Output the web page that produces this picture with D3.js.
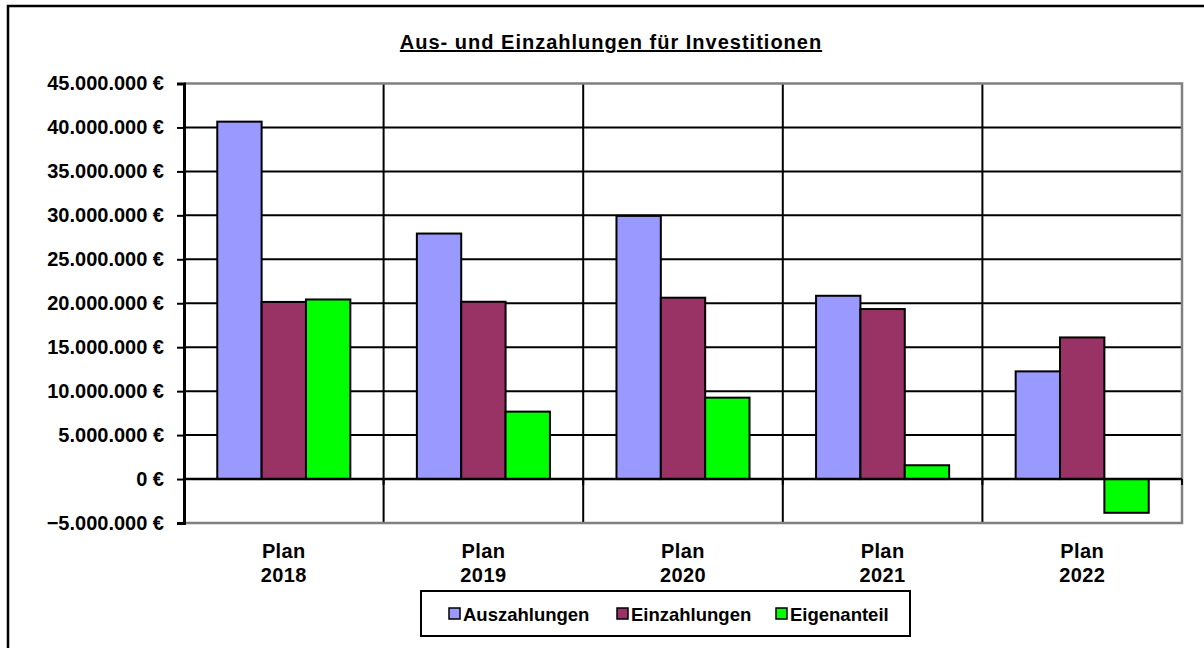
<!DOCTYPE html>
<html>
<head>
<meta charset="utf-8">
<script src="https://cdn.jsdelivr.net/npm/d3@7"></script>
<style>
  body { margin: 0; background: #fff; }
  svg { display: block; font-family: 'Liberation Sans', Arial, sans-serif; font-weight: bold; }
</style>
</head>
<body>
<div class="canvas"></div>
<script>
const categories = ['Plan 2018', 'Plan 2019', 'Plan 2020', 'Plan 2021', 'Plan 2022'];
const seriesNames = ['Auszahlungen', 'Einzahlungen', 'Eigenanteil'];
const auszahlungen = [40660000, 27930000, 29940000, 20850000, 12250000];
const einzahlungen = [20150000, 20170000, 20630000, 19340000, 16110000];
const eigenanteil = [20430000, 7670000, 9260000, 1570000, -3840000];
const yTicks = [-5000000, 0, 5000000, 10000000, 15000000, 20000000, 25000000, 30000000, 35000000, 40000000, 45000000];
const colors = ['#9999ff', '#993366', '#00ff00'];

const width = 1204;
const height = 648;
const plot = { left: 184, right: 1182, top: 83.5, bottom: 523 };

const svg = d3
  .select('.canvas')
  .append('svg')
  .attr('width', width)
  .attr('height', height);

// outer frame (runs off the right and bottom edge)
svg
  .append('rect')
  .attr('x', 8)
  .attr('y', 6)
  .attr('width', 1220)
  .attr('height', 680)
  .attr('fill', 'none')
  .attr('stroke', '#000')
  .attr('stroke-width', 2.5);

svg
  .append('text')
  .attr('x', 611)
  .attr('y', 49)
  .attr('text-anchor', 'middle')
  .attr('font-size', 20)
  .attr('letter-spacing', 1)
  .attr('text-decoration', 'underline')
  .text('Aus- und Einzahlungen für Investitionen');

const y = d3
  .scaleLinear()
  .domain([-5000000, 45000000])
  .range([plot.bottom, plot.top]);

const x0 = d3
  .scaleBand()
  .domain(categories)
  .range([plot.left, plot.right]);

const gap = x0.bandwidth() * 1.5 / 4.5;
const x1 = d3
  .scaleBand()
  .domain(seriesNames)
  .range([gap / 2, x0.bandwidth() - gap / 2]);

const fmt = d => (d === 0 ? '0' : d3.format(',')(d).replace(/,/g, '.')) + ' €';

// horizontal gridlines
svg
  .append('g')
  .selectAll('line')
  .data(yTicks.filter(d => d > -5000000 && d < 45000000))
  .join('line')
  .attr('x1', plot.left)
  .attr('x2', plot.right)
  .attr('y1', d => y(d))
  .attr('y2', d => y(d))
  .attr('stroke', '#000')
  .attr('stroke-width', 2);

// vertical category separators
svg
  .append('g')
  .selectAll('line')
  .data(categories.slice(1))
  .join('line')
  .attr('x1', d => x0(d))
  .attr('x2', d => x0(d))
  .attr('y1', plot.top)
  .attr('y2', plot.bottom)
  .attr('stroke', '#000')
  .attr('stroke-width', 2);

// plot border: top, right, bottom grey
svg
  .append('path')
  .attr('d', `M${plot.left},${plot.top}H${plot.right}V${plot.bottom}H${plot.left}`)
  .attr('fill', 'none')
  .attr('stroke', '#808080')
  .attr('stroke-width', 2.5);

// bars
const groups = svg
  .append('g')
  .selectAll('g')
  .data(categories.map((c, i) => ({ cat: c, values: [auszahlungen[i], einzahlungen[i], eigenanteil[i]] })))
  .join('g')
  .attr('transform', d => `translate(${x0(d.cat)},0)`);

groups
  .selectAll('rect')
  .data(d => d.values.map((v, j) => ({ name: seriesNames[j], value: v, color: colors[j] })))
  .join('rect')
  .attr('x', d => x1(d.name))
  .attr('width', x1.bandwidth())
  .attr('y', d => y(Math.max(0, d.value)))
  .attr('height', d => Math.abs(y(d.value) - y(0)))
  .attr('fill', d => d.color)
  .attr('stroke', '#000')
  .attr('stroke-width', 2);

// zero line with category ticks
svg
  .append('line')
  .attr('x1', plot.left)
  .attr('x2', plot.right)
  .attr('y1', y(0))
  .attr('y2', y(0))
  .attr('stroke', '#000')
  .attr('stroke-width', 2.5);

svg
  .append('g')
  .selectAll('line')
  .data(categories.slice(1).map(c => x0(c)).concat([plot.right]))
  .join('line')
  .attr('x1', d => d)
  .attr('x2', d => d)
  .attr('y1', y(0))
  .attr('y2', y(0) + 6)
  .attr('stroke', '#000')
  .attr('stroke-width', 2);

// y axis
const yAxis = svg
  .append('g')
  .attr('transform', `translate(${plot.left},0)`)
  .call(d3.axisLeft(y).tickValues(yTicks).tickFormat(fmt).tickSize(7).tickPadding(13));

yAxis.select('.domain').attr('stroke', '#000').attr('stroke-width', 3);
yAxis.selectAll('.tick line').attr('stroke', '#000').attr('stroke-width', 2);
yAxis
  .selectAll('.tick text')
  .attr('font-size', 20)
  .attr('font-family', "'Liberation Sans', Arial, sans-serif")
  .attr('font-weight', 'bold')
  .attr('fill', '#000');

// category labels on two lines
const xLabels = svg
  .append('g')
  .selectAll('text')
  .data(categories)
  .join('text')
  .attr('x', d => x0(d) + x0.bandwidth() / 2)
  .attr('y', 558)
  .attr('text-anchor', 'middle')
  .attr('font-size', 20)
  .attr('letter-spacing', 0.4);

xLabels
  .selectAll('tspan')
  .data(d => d.split(' '))
  .join('tspan')
  .attr('x', function () { return this.parentNode.getAttribute('x'); })
  .attr('dy', (d, i) => (i === 0 ? 0 : 23.5))
  .text(d => d);

// legend
const legend = svg.append('g');
legend
  .append('rect')
  .attr('x', 421)
  .attr('y', 591)
  .attr('width', 489)
  .attr('height', 45)
  .attr('fill', '#fff')
  .attr('stroke', '#000')
  .attr('stroke-width', 2);

const legendX = [449, 617, 776];
const items = legend
  .selectAll('g')
  .data(seriesNames)
  .join('g')
  .attr('transform', (d, i) => `translate(${legendX[i]},608)`);

items
  .append('rect')
  .attr('width', 11)
  .attr('height', 11)
  .attr('fill', (d, i) => colors[i])
  .attr('stroke', '#000')
  .attr('stroke-width', 1.5);

items
  .append('text')
  .attr('x', 14)
  .attr('y', 13)
  .attr('font-size', 18.5)
  .text(d => d);
</script>
</body>
</html>
